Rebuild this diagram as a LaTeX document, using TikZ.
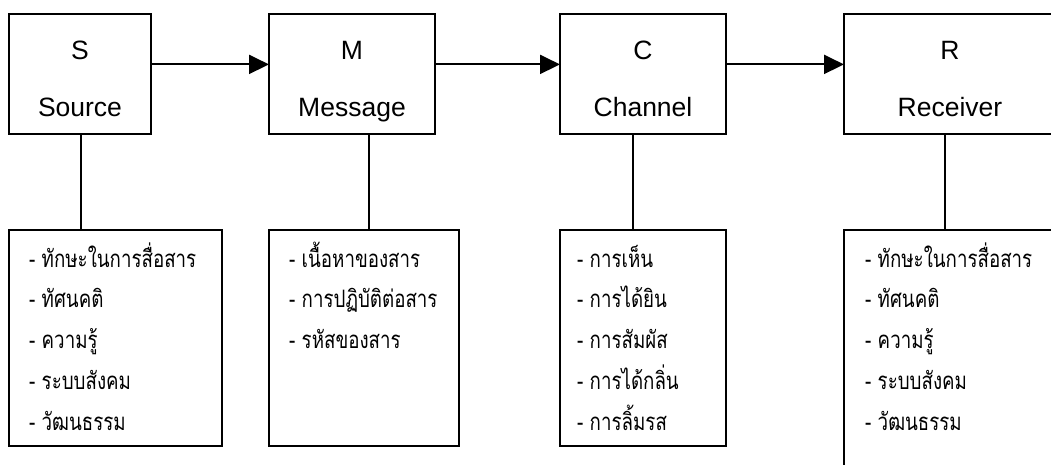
\documentclass[tikz,border=0pt]{standalone}
\usepackage{fontspec}
\setmainfont{Liberation Sans}
\newfontfamily\thaifont[Script=Thai,FakeStretch=0.78]{Loma}
\usetikzlibrary{arrows.meta,calc}

\begin{document}
\begin{tikzpicture}[x=1pt,y=-1pt]

  \tikzstyle{block} = [draw, line width=2, anchor=north west, inner sep=0, outer sep=0]
  \tikzstyle{head} = [anchor=base, inner sep=0, font=\fontsize{26.5}{26.5}\selectfont]
  \tikzstyle{item} = [anchor=base west, inner sep=0, font=\thaifont\fontsize{24}{24}\selectfont]
  \tikzstyle{flow} = [line width=2, -{Triangle[length=20pt,width=19pt]}]

  \clip (0,0) rectangle (1051,465);

  % top row
  \node[block, minimum width=142, minimum height=120] (S) at (9,14) {};
  \node[block, minimum width=166, minimum height=120] (M) at (269,14) {};
  \node[block, minimum width=166, minimum height=120] (C) at (560,14) {};
  \node[block, minimum width=212, minimum height=120] (R) at (844,14) {};

  \node[head] (Sl) at ($(S.north)+(0,46)$) {S};
  \node[head] (Sn) at ($(S.north)+(0,103)$) {Source};
  \node[head] (Ml) at ($(M.north)+(0,46)$) {M};
  \node[head] (Mn) at ($(M.north)+(0,103)$) {Message};
  \node[head] (Cl) at ($(C.north)+(0,46)$) {C};
  \node[head] (Cn) at ($(C.north)+(0,103)$) {Channel};
  \node[head] (Rl) at ($(R.north)+(0,46)$) {R};
  \node[head] (Rn) at ($(R.north)+(0,103)$) {Receiver};

  \draw[flow] ($(S.north east)!0.42!(S.south east)$) -- ($(M.north west)!0.42!(M.south west)$);
  \draw[flow] ($(M.north east)!0.42!(M.south east)$) -- ($(C.north west)!0.42!(C.south west)$);
  \draw[flow] ($(C.north east)!0.42!(C.south east)$) -- ($(R.north west)!0.42!(R.south west)$);

  % bottom row
  \node[block, minimum width=213, minimum height=216] (Slist) at (9,230) {};
  \node[block, minimum width=190, minimum height=216] (Mlist) at (269,230) {};
  \node[block, minimum width=166, minimum height=216] (Clist) at (560,230) {};
  \node[block, minimum width=213, minimum height=260] (Rlist) at (844,230) {};

  \foreach \t [count=\i] in {ทักษะในการสื่อสาร, ทัศนคติ, ความรู้, ระบบสังคม, วัฒนธรรม}
    \node[item] (s\i) at ($(Slist.north west)+(20,37+40.75*\i-40.75)$) {- \t};
  \foreach \t [count=\i] in {เนื้อหาของสาร, การปฏิบัติต่อสาร, รหัสของสาร}
    \node[item] (m\i) at ($(Mlist.north west)+(20,37+40.75*\i-40.75)$) {- \t};
  \foreach \t [count=\i] in {การเห็น, การได้ยิน, การสัมผัส, การได้กลิ่น, การลิ้มรส}
    \node[item] (c\i) at ($(Clist.north west)+(17,37+40.75*\i-40.75)$) {- \t};
  \foreach \t [count=\i] in {ทักษะในการสื่อสาร, ทัศนคติ, ความรู้, ระบบสังคม, วัฒนธรรม}
    \node[item] (r\i) at ($(Rlist.north west)+(21,37+40.75*\i-40.75)$) {- \t};

  \coordinate (sj) at ($(S.south west)!0.507!(S.south east)$);
  \coordinate (mj) at ($(M.south west)!0.602!(M.south east)$);
  \coordinate (cj) at ($(C.south west)!0.44!(C.south east)$);
  \coordinate (rj) at ($(R.south west)!0.476!(R.south east)$);

  \draw[line width=2] (sj) -- (sj |- Slist.north);
  \draw[line width=2] (mj) -- (mj |- Mlist.north);
  \draw[line width=2] (cj) -- (cj |- Clist.north);
  \draw[line width=2] (rj) -- (rj |- Rlist.north);

\end{tikzpicture}
\end{document}
